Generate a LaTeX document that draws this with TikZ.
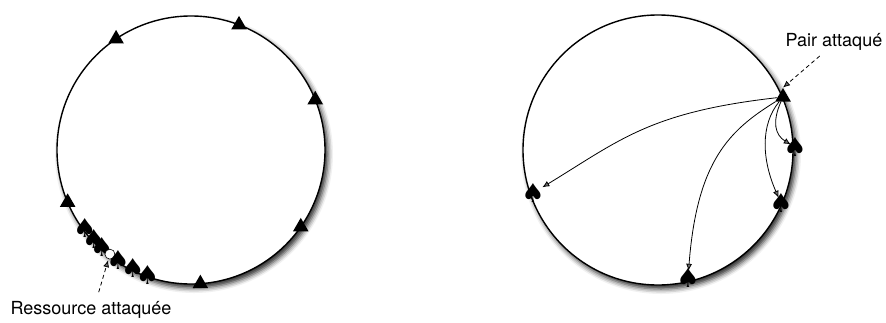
\documentclass[tikz,border=0pt]{standalone}
\usepackage{fontspec}
\setmainfont{TeX Gyre Heros}
\newfontfamily\symbfont{DejaVu Sans}
\usetikzlibrary{arrows.meta,calc,shapes.geometric,shadows.blur}

\tikzset{
    ring/.style={line width=1.4pt,fill=white,
        blur shadow={shadow xshift=3pt,shadow yshift=-4pt,shadow blur radius=5pt,shadow opacity=85}},
    tri/.style={regular polygon,regular polygon sides=3,fill=black,inner sep=0pt,minimum size=18pt},
    pique/.style={inner sep=-2.5pt,font=\symbfont\fontsize{26}{26}\selectfont},
    cible/.style={circle,draw,fill=white,line width=0.6pt,inner sep=0pt,minimum size=10pt},
    lbl/.style={font=\fontsize{18}{21}\selectfont},
    lien/.style={line width=0.8pt,-{Latex[length=7pt,width=6pt]}},
    pointe/.style={line width=0.8pt,dashed,dash pattern=on 4pt off 3pt,-{Latex[length=7pt,width=6pt]}}
}

\begin{document}
\begin{tikzpicture}[x=1pt,y=-1pt]
    \useasboundingbox (0,0) rectangle (886,322);
    % left ring
    \coordinate (cl) at (191,150);
    \draw[ring] (cl) circle (134);
    \foreach \a [count=\i] in {-124,-69,-22,35,86,157}{
        \node[tri] (t\i) at ($(cl)+(\a:134)$) {};
    }
    \foreach \a [count=\i] in {143.6,137.4,132.5}{
        \node[pique] (p\i) at ($(cl)+(\a:132)$) {♠};
    }
    \node[cible] (res) at ($(cl)+(127.9:132)$) {};
    \foreach \a [count=\i from 4] in {123.5,116.2,109.2}{
        \node[pique] (p\i) at ($(cl)+(\a:132)$) {♠};
    }
    \node[lbl] (lblres) at (91,310) {Ressource attaquée};
    \draw[pointe,shorten <=6pt,shorten >=1pt] ([xshift=6pt]lblres.north) -- (res);

    % right ring
    \coordinate (cr) at (658,150);
    \draw[ring] (cr) circle (135);
    \node[tri] (pair) at (783,97) {};
    \node[pique] (s1) at (533,193) {♠};
    \node[pique] (s2) at (688,278) {♠};
    \node[pique] (s3) at (781,203) {♠};
    \node[pique] (s4) at (795,147) {♠};
    \draw[lien] (pair) .. controls +(-133,15) and +(87,-53) .. (s1);
    \draw[lien] (pair) .. controls +(-53,33) and +(9,-118) .. (s2);
    \draw[lien,shorten >=-2pt] (pair) .. controls +(-23,28) and +(-19,-43) .. (s3);
    \draw[lien,shorten >=-6pt] (pair) .. controls +(-11,25) and +(-20,-12) .. (s4);
    \node[lbl] (lblpair) at (834,42) {Pair attaqué};
    \draw[pointe,shorten <=3pt] ([xshift=-12pt]lblpair.south) -- (pair.corner 1);
\end{tikzpicture}
\end{document}
